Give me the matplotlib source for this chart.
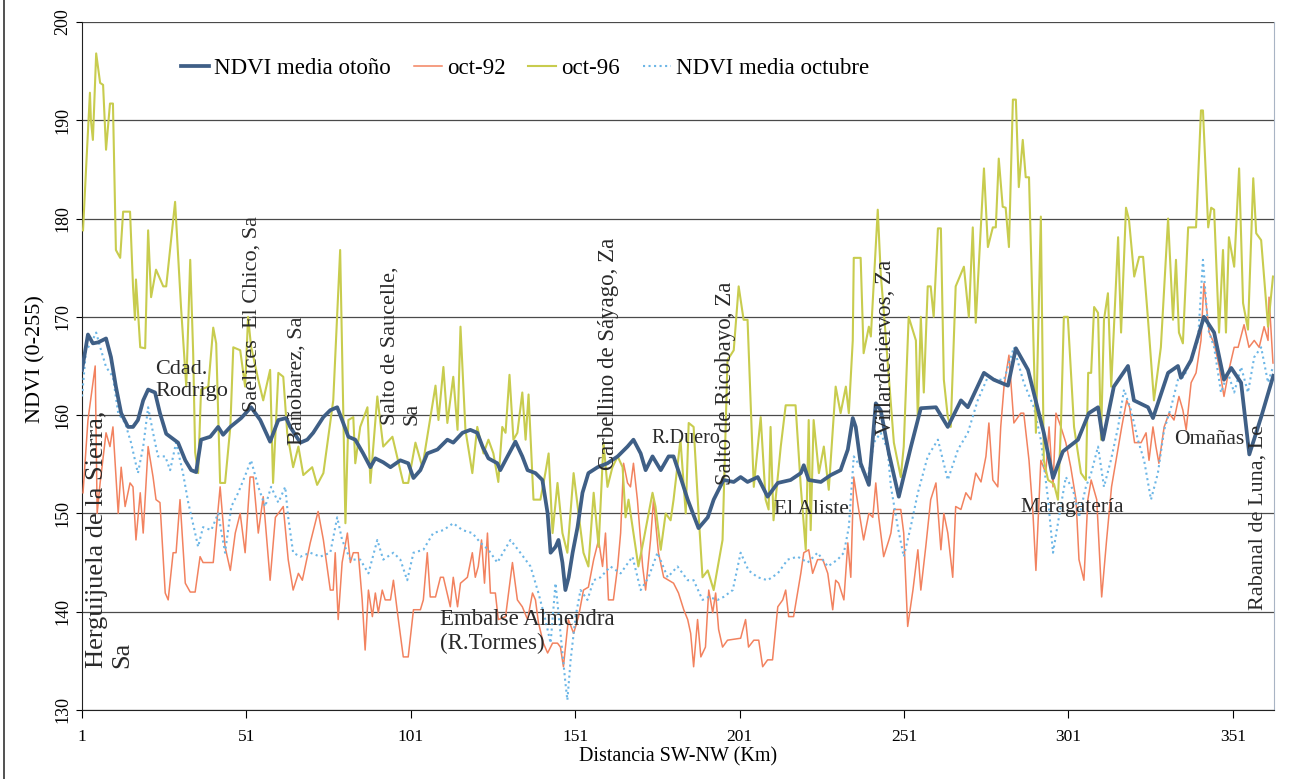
import matplotlib
matplotlib.use("Agg")
import matplotlib.pyplot as plt
from matplotlib.lines import Line2D

plt.rcParams['font.family'] = ['Liberation Serif', 'DejaVu Serif']

# (km, NDVI) pairs
otono = [(1, 164.6), (2.8, 168.2), (4.3, 167.3), (5.9, 167.4), (8.3, 167.8), (9.8, 165.9), (11.3, 162.9),
         (12.9, 160.2), (15.0, 158.8), (16.5, 158.8), (18.0, 159.5), (19.6, 161.5), (21.1, 162.6), (23.2, 162.3),
         (24.7, 160.2), (26.6, 158.1), (30.2, 157.2), (32.4, 155.4), (34.2, 154.4), (35.7, 154.2), (37.2, 157.5),
         (40.0, 157.8), (42.4, 158.8), (43.9, 158.0), (46.1, 158.8), (49.4, 159.7), (52.4, 160.8), (55.2, 159.5),
         (58.2, 157.3), (60.7, 159.5), (63.1, 159.7), (64.3, 158.8), (67.4, 157.2), (69.5, 157.5), (71.3, 158.2),
         (74.4, 159.8), (76.5, 160.5), (78.6, 160.8), (80.1, 159.5), (82.0, 157.8), (84.1, 157.5), (86.5, 156.1),
         (88.7, 154.7), (90.2, 155.6), (92.6, 155.2), (94.8, 154.7), (97.8, 155.4), (100.2, 155.1), (101.8, 153.6),
         (103.9, 154.4), (106.0, 156.1), (109.1, 156.5), (112.1, 157.5), (113.9, 157.2), (116.7, 158.2),
         (119.1, 158.5), (121.2, 158.2), (122.8, 156.8), (124.6, 155.6), (127.3, 155.1), (128.2, 154.4),
         (130.4, 155.8), (132.8, 157.3), (134.9, 155.8), (136.5, 154.4), (138.9, 154.1), (141.0, 153.4),
         (142.6, 150.0), (143.5, 146.0), (145.0, 146.6), (145.9, 147.3), (147.1, 145.0), (148.0, 142.2),
         (149.0, 143.5), (150.2, 146.0), (151.7, 148.6), (153.2, 152.1), (155.0, 154.1), (157.8, 154.7),
         (160.8, 155.1), (163.9, 155.8), (166.9, 156.8), (168.7, 157.5), (170.9, 156.1), (172.4, 154.4),
         (174.5, 155.8), (177.0, 154.4), (179.4, 155.8), (180.9, 155.8), (183.0, 153.7), (185.2, 151.4),
         (188.5, 148.5), (191.3, 149.6), (193.1, 151.4), (196.1, 153.4), (199.2, 153.2), (201.3, 153.7),
         (203.4, 153.2), (206.5, 153.7), (209.5, 151.7), (212.6, 153.1), (216.5, 153.4), (219.6, 154.1),
         (220.5, 154.9), (222.0, 153.4), (225.7, 153.2), (228.7, 153.9), (231.7, 154.4), (233.9, 156.5),
         (235.4, 159.7), (236.3, 158.8), (237.8, 155.1), (240.3, 152.9), (242.4, 161.2), (243.9, 160.5),
         (246.4, 156.1), (249.4, 151.7), (253.1, 156.8), (256.1, 160.7), (260.7, 160.8), (264.3, 158.8),
         (268.3, 161.5), (270.4, 160.8), (275.3, 164.3), (278.3, 163.6), (282.6, 163.0), (285.0, 166.8),
         (288.7, 164.6), (293.5, 158.2), (296.3, 153.6), (299.3, 156.3), (303.9, 157.5), (307.2, 160.2),
         (310.0, 160.8), (311.5, 157.5), (314.8, 162.9), (319.1, 165.0), (320.9, 161.5), (325.2, 160.8),
         (326.7, 159.7), (331.3, 164.3), (334.3, 165.0), (335.2, 163.8), (338.3, 165.6), (342.2, 170.0),
         (345.3, 168.4), (348.3, 163.6), (350.5, 164.8), (353.5, 163.3), (356.0, 156.0), (359.6, 159.8),
         (363.3, 164.0)]

oct92 = [(1.3, 152.1), (2.8, 159.5), (5.0, 165.0), (5.6, 150.0), (6.5, 153.1), (8.3, 158.2), (9.5, 156.8),
         (10.4, 158.8), (12.0, 150.0), (12.9, 154.7), (14.1, 150.7), (15.6, 153.1), (16.5, 152.7), (17.4, 147.3),
         (18.7, 152.1), (19.6, 148.0), (21.1, 156.8), (22.6, 153.7), (23.5, 151.4), (24.7, 151.1), (26.3, 141.9),
         (27.2, 141.2), (28.7, 146.0), (29.6, 146.0), (30.8, 151.4), (32.4, 142.9), (33.9, 142.0), (35.4, 142.0),
         (36.9, 145.6), (37.8, 145.0), (40.9, 145.0), (43.0, 152.7), (44.5, 146.6), (46.1, 144.2), (47.6, 148.0),
         (49.1, 150.0), (50.6, 146.0), (52.1, 153.7), (53.1, 153.7), (54.6, 148.0), (56.1, 151.7), (57.0, 148.0),
         (58.2, 143.2), (59.8, 149.6), (60.7, 150.0), (62.2, 150.7), (63.7, 145.3), (65.2, 142.2), (66.8, 143.9),
         (68.0, 143.2), (70.4, 147.0), (72.8, 150.2), (74.4, 147.3), (76.5, 142.2), (77.4, 142.2), (78.0, 146.0),
         (78.9, 139.2), (80.1, 145.0), (81.7, 148.0), (82.6, 145.0), (83.5, 146.0), (85.0, 146.0), (86.2, 141.2),
         (87.1, 136.1), (88.1, 142.2), (89.3, 139.5), (90.2, 141.9), (91.1, 139.9), (92.3, 142.2), (93.2, 141.2),
         (94.8, 141.2), (95.7, 143.2), (97.2, 139.2), (98.7, 135.4), (100.2, 135.4), (101.8, 140.2),
         (103.9, 140.2), (104.8, 141.2), (106.0, 146.0), (106.9, 141.5), (108.5, 141.5), (110.0, 143.5),
         (110.9, 143.5), (113.0, 140.5), (113.9, 143.5), (115.2, 140.5), (116.1, 142.9), (118.2, 143.5),
         (119.7, 146.0), (120.6, 143.5), (121.5, 144.6), (122.5, 147.3), (123.4, 142.9), (124.3, 148.0),
         (125.2, 141.9), (126.7, 141.9), (127.6, 139.2), (129.8, 139.5), (131.9, 145.0), (133.4, 141.2),
         (134.9, 140.5), (136.5, 139.2), (138.0, 141.9), (138.9, 141.2), (139.8, 138.9), (141.3, 136.8),
         (142.6, 135.8), (144.1, 136.8), (145.6, 136.8), (146.5, 136.4), (147.4, 134.4), (148.9, 139.2),
         (150.5, 137.8), (152.0, 139.5), (153.5, 142.2), (155.0, 142.5), (156.6, 145.3), (158.1, 147.3),
         (159.3, 144.6), (160.2, 148.0), (161.1, 141.2), (162.6, 141.2), (163.9, 144.6), (164.8, 148.0),
         (165.7, 155.1), (166.9, 153.1), (167.8, 152.7), (168.7, 155.1), (169.9, 151.4), (171.5, 144.6),
         (172.4, 142.2), (173.9, 147.3), (174.8, 151.4), (176.3, 146.0), (177.9, 143.5), (179.4, 143.2),
         (180.9, 142.9), (182.4, 141.9), (184.0, 140.2), (185.2, 139.2), (186.1, 137.8), (187.0, 134.4),
         (188.2, 139.2), (189.2, 135.4), (190.6, 136.4), (191.6, 142.2), (192.8, 139.9), (193.7, 141.9),
         (194.6, 138.2), (195.8, 136.4), (197.3, 137.1), (201.3, 137.3), (202.8, 139.2), (203.7, 136.4),
         (205.3, 137.1), (206.8, 137.1), (208.0, 134.4), (209.5, 135.1), (211.0, 135.1), (212.6, 140.5),
         (214.1, 141.2), (215.0, 142.2), (215.9, 139.5), (217.4, 139.5), (218.6, 141.9), (219.6, 143.9),
         (220.5, 146.0), (222.0, 146.3), (223.2, 143.9), (224.7, 145.3), (226.3, 145.3), (227.8, 143.9),
         (229.3, 140.2), (230.2, 143.2), (231.1, 142.9), (232.7, 141.2), (233.9, 147.0), (234.8, 143.5),
         (235.7, 153.7), (237.2, 150.4), (238.7, 147.3), (240.3, 150.0), (241.5, 149.6), (242.4, 153.1),
         (243.3, 149.6), (244.8, 145.6), (246.4, 147.3), (247.0, 148.0), (247.9, 150.4), (250.0, 150.4),
         (250.9, 148.0), (252.1, 138.5), (253.7, 142.2), (255.2, 146.3), (256.1, 142.2), (257.6, 146.6),
         (259.1, 151.4), (260.7, 153.1), (262.2, 146.3), (263.1, 150.0), (264.3, 148.0), (265.8, 143.5),
         (266.7, 150.7), (268.3, 150.4), (269.8, 152.1), (271.3, 151.4), (272.8, 154.1), (274.4, 153.2),
         (275.9, 155.8), (276.8, 159.2), (278.0, 153.4), (279.5, 152.7), (280.4, 158.8), (281.4, 162.9),
         (282.9, 166.1), (284.4, 159.2), (286.5, 160.2), (287.4, 160.2), (289.0, 155.4), (290.2, 150.0),
         (291.1, 144.2), (292.6, 155.4), (294.1, 154.1), (295.1, 158.8), (296.3, 152.7), (297.2, 160.2),
         (298.7, 158.8), (300.2, 157.2), (301.7, 154.7), (303.3, 151.4), (304.2, 145.3), (305.7, 143.2),
         (306.9, 151.4), (307.9, 153.4), (309.6, 151.4), (311.1, 141.5), (312.6, 147.3), (314.1, 152.7),
         (316.2, 156.8), (317.2, 158.8), (318.7, 161.5), (319.6, 160.8), (321.1, 157.2), (323.1, 157.2),
         (324.6, 158.2), (325.5, 155.4), (326.7, 158.8), (327.6, 156.8), (328.5, 155.1), (330.1, 158.8),
         (331.6, 160.2), (333.1, 159.5), (334.6, 161.9), (335.8, 160.5), (336.8, 158.5), (338.3, 163.3),
         (339.8, 164.3), (341.3, 167.6), (342.2, 173.4), (343.8, 168.4), (345.3, 167.3), (346.8, 165.0),
         (348.3, 161.9), (349.8, 164.6), (351.4, 166.9), (352.6, 166.9), (354.4, 169.2), (355.9, 166.9),
         (357.5, 167.6), (359.0, 166.9), (360.5, 169.0), (361.7, 167.6), (362.0, 172.0), (363.2, 165.3)]

oct96 = [(1.3, 178.8), (2.2, 184.9), (3.4, 192.8), (3.7, 190.0), (4.3, 188.0), (5.3, 196.8), (6.5, 193.8),
         (7.4, 193.6), (8.3, 187.0), (9.5, 191.7), (10.4, 191.7), (11.3, 176.8), (12.6, 176.0), (13.5, 180.7),
         (15.6, 180.7), (16.5, 173.1), (17.1, 169.7), (17.4, 173.8), (18.7, 166.9), (20.2, 166.8), (21.1, 178.8),
         (22.0, 172.0), (23.5, 174.8), (25.7, 173.1), (26.6, 173.1), (29.3, 181.7), (31.1, 171.0), (32.7, 162.9),
         (33.9, 175.8), (34.8, 166.3), (35.4, 156.2), (36.3, 154.1), (37.2, 162.6), (39.4, 162.9), (40.9, 168.9),
         (41.8, 167.3), (43.0, 153.1), (44.5, 153.1), (46.1, 158.8), (47.0, 166.9), (49.1, 166.6), (50.6, 162.9),
         (51.5, 170.0), (52.4, 167.0), (54.6, 163.6), (56.1, 161.5), (58.2, 164.6), (59.1, 153.1), (60.7, 164.3),
         (62.2, 163.9), (63.4, 158.2), (65.2, 154.7), (66.8, 156.8), (68.3, 153.9), (71.0, 154.7), (72.5, 152.9),
         (74.4, 154.1), (77.4, 161.5), (79.5, 176.8), (81.1, 149.0), (82.0, 159.5), (83.5, 159.8), (84.1, 155.1),
         (85.6, 158.8), (87.8, 160.8), (88.7, 153.1), (90.8, 161.9), (92.6, 156.8), (95.4, 157.8), (98.7, 153.1),
         (100.2, 153.1), (102.4, 157.2), (104.5, 154.7), (106.0, 157.8), (108.5, 163.0), (109.4, 159.5),
         (110.9, 164.9), (112.1, 159.2), (113.9, 163.9), (115.2, 158.5), (116.1, 169.0), (117.6, 158.5),
         (119.7, 154.1), (121.2, 158.8), (123.1, 156.1), (124.6, 157.5), (126.1, 156.1), (127.6, 153.2),
         (128.8, 158.8), (129.8, 158.2), (131.0, 164.1), (132.2, 157.5), (133.4, 158.2), (134.9, 162.3),
         (135.9, 157.5), (136.8, 162.1), (138.3, 151.4), (140.4, 151.4), (141.9, 154.1), (142.9, 156.1),
         (144.1, 148.0), (145.6, 153.1), (147.1, 148.0), (148.6, 146.0), (150.5, 154.1), (152.0, 150.0),
         (153.5, 146.0), (155.0, 144.6), (156.6, 152.1), (158.1, 146.6), (159.6, 157.2), (160.8, 152.7),
         (162.3, 154.7), (163.9, 155.8), (165.4, 154.7), (166.3, 149.6), (167.2, 151.4), (168.7, 148.0),
         (170.2, 144.6), (171.8, 147.3), (173.3, 150.0), (174.5, 152.1), (175.4, 150.7), (177.0, 146.3),
         (178.5, 150.0), (180.0, 149.3), (180.9, 151.4), (183.0, 157.5), (184.6, 150.0), (185.5, 159.2),
         (187.0, 158.8), (188.5, 150.0), (189.7, 143.5), (191.3, 144.2), (193.1, 142.2), (194.6, 145.0),
         (195.8, 147.3), (197.3, 165.6), (199.2, 166.6), (200.4, 171.7), (200.7, 173.1), (202.2, 169.7),
         (203.4, 169.7), (205.3, 152.7), (207.4, 159.8), (208.9, 151.4), (209.8, 150.4), (210.4, 158.8),
         (211.3, 149.3), (213.5, 156.8), (215.0, 161.0), (218.0, 161.0), (219.6, 152.7), (221.1, 146.3),
         (222.0, 159.5), (222.6, 148.3), (223.5, 159.5), (225.1, 154.1), (226.6, 156.8), (228.1, 152.4),
         (230.2, 162.9), (231.7, 160.2), (233.3, 162.9), (234.2, 160.2), (235.4, 167.6), (235.7, 176.0),
         (237.8, 176.0), (238.7, 166.3), (240.3, 169.0), (240.9, 168.0), (243.0, 180.9), (243.9, 174.4),
         (244.8, 170.7), (247.9, 157.2), (250.0, 153.7), (250.9, 156.8), (252.4, 170.0), (254.6, 167.6),
         (255.2, 159.5), (256.1, 170.0), (257.0, 162.3), (258.2, 173.1), (259.1, 173.1), (260.0, 170.0),
         (261.3, 179.0), (262.2, 179.0), (263.1, 163.6), (264.3, 159.8), (265.2, 158.8), (266.7, 173.1),
         (269.2, 175.1), (270.7, 170.0), (271.9, 179.1), (272.8, 169.4), (275.3, 185.1), (276.5, 177.1),
         (278.0, 179.1), (278.9, 179.1), (279.8, 186.1), (281.0, 181.2), (281.9, 181.1), (282.9, 177.1),
         (284.1, 192.1), (285.0, 192.1), (285.9, 183.2), (287.1, 188.0), (288.0, 184.2), (289.0, 184.2),
         (291.1, 158.2), (292.6, 180.2), (293.5, 155.4), (294.8, 153.4), (296.6, 153.0), (297.8, 151.4),
         (298.7, 158.8), (299.6, 170.0), (300.8, 170.0), (302.7, 158.8), (304.8, 154.1), (306.3, 153.4),
         (307.0, 164.3), (307.9, 164.3), (308.8, 171.0), (310.0, 170.4), (310.9, 157.5), (311.8, 169.7),
         (313.0, 172.4), (314.0, 162.9), (316.1, 178.1), (317.0, 168.4), (318.5, 181.1), (319.4, 179.9),
         (321.0, 174.1), (322.5, 176.1), (323.7, 176.1), (325.2, 169.7), (327.0, 161.5), (329.1, 166.9),
         (331.3, 180.0), (332.8, 169.7), (333.7, 175.8), (334.6, 168.4), (335.8, 167.3), (337.4, 179.1),
         (339.8, 179.1), (341.3, 191.0), (341.9, 191.0), (343.5, 179.1), (344.4, 181.1), (345.3, 180.9),
         (346.8, 168.4), (348.0, 176.8), (348.9, 168.4), (349.8, 178.1), (351.4, 175.1), (352.9, 185.1),
         (354.1, 171.4), (355.6, 168.7), (357.2, 184.1), (358.1, 178.5), (359.6, 177.8), (361.7, 169.0),
         (363.2, 174.1)]

octubre = [(1.0, 161.9), (2.2, 166.6), (3.7, 167.3), (5.3, 168.4), (6.8, 166.6), (8.3, 164.9), (10.4, 163.9),
           (12.0, 160.2), (14.1, 159.2), (15.9, 157.2), (18.0, 154.1), (19.6, 156.8), (21.1, 160.8),
           (22.6, 158.2), (24.1, 155.8), (26.3, 155.8), (27.8, 154.4), (29.6, 157.2), (31.7, 154.1),
           (33.3, 151.1), (35.4, 148.0), (36.3, 146.6), (37.8, 148.6), (40.3, 148.3), (42.4, 150.0),
           (44.5, 146.0), (46.4, 150.7), (48.5, 152.1), (50.9, 154.1), (52.4, 155.4), (54.6, 152.7),
           (56.7, 150.7), (58.5, 152.7), (60.7, 151.1), (62.8, 152.7), (63.7, 149.6), (65.2, 146.0),
           (67.4, 145.6), (70.4, 146.0), (73.4, 145.6), (76.5, 146.0), (78.6, 149.6), (80.1, 147.3),
           (82.6, 145.3), (85.6, 145.3), (88.1, 143.9), (90.8, 147.3), (92.6, 145.3), (95.7, 146.0),
           (97.8, 145.3), (99.9, 143.2), (101.8, 146.0), (104.8, 146.3), (107.8, 148.0), (110.9, 148.3),
           (113.9, 149.0), (116.7, 148.3), (119.7, 148.0), (122.2, 147.0), (124.6, 146.3), (127.3, 145.0),
           (131.3, 147.3), (134.3, 146.0), (137.4, 144.6), (139.8, 141.9), (141.9, 139.2), (143.5, 136.8),
           (145.0, 142.9), (146.5, 137.8), (148.0, 132.8), (148.6, 131.0), (149.6, 135.1), (151.1, 139.5),
           (152.6, 142.2), (154.7, 141.2), (156.6, 143.2), (158.7, 143.5), (161.7, 144.6), (164.8, 143.9),
           (168.4, 145.6), (170.9, 142.2), (173.3, 143.5), (176.0, 146.0), (179.1, 143.5), (182.1, 144.6),
           (185.2, 143.2), (187.0, 143.2), (189.7, 141.2), (191.6, 141.5), (194.3, 141.2), (196.1, 141.5),
           (198.9, 142.2), (201.3, 146.0), (203.7, 144.2), (206.5, 143.5), (209.5, 143.2), (212.6, 143.9),
           (215.6, 145.3), (218.6, 145.6), (221.7, 145.0), (224.7, 146.0), (227.8, 144.6), (230.8, 145.3),
           (232.7, 146.0), (234.2, 148.6), (235.7, 155.8), (237.8, 154.7), (239.9, 153.4), (241.8, 157.2),
           (243.9, 158.2), (246.0, 156.5), (247.0, 152.7), (249.1, 148.6), (250.9, 145.6), (253.0, 148.6),
           (255.2, 152.1), (258.2, 155.8), (261.3, 157.5), (264.3, 153.4), (267.4, 156.5), (270.4, 158.2),
           (273.4, 161.5), (276.5, 163.9), (278.9, 163.6), (281.4, 163.6), (284.4, 166.9), (287.4, 163.3),
           (290.5, 160.8), (292.6, 157.5), (294.8, 151.4), (296.3, 146.0), (298.1, 149.6), (300.2, 153.7),
           (302.4, 152.4), (304.2, 149.6), (306.3, 152.7), (307.9, 154.1), (310.0, 156.8), (311.8, 152.7),
           (313.9, 155.4), (316.1, 158.8), (317.9, 162.6), (320.0, 160.5), (322.1, 157.5), (324.0, 155.4),
           (326.1, 151.4), (328.2, 154.1), (330.1, 158.5), (332.2, 160.8), (334.3, 163.6), (336.1, 163.9),
           (338.3, 165.6), (340.4, 167.6), (341.9, 175.8), (343.5, 168.7), (345.3, 166.9), (347.4, 162.3),
           (349.5, 164.3), (351.4, 162.3), (353.5, 164.9), (355.6, 162.3), (357.5, 165.9), (359.6, 166.9),
           (361.7, 163.3), (363.2, 164.9)]

xticks = [1, 51, 101, 151, 201, 251, 301, 351]
yticks = [130, 140, 150, 160, 170, 180, 190, 200]

# place names: (text, km, ndvi, rotation, ha, va, size)
lugares = [
    ("Herguijuela de la Sierra,\nSa", 9.5, 134.3, 90, 'center', 'bottom', 19),
    ("Cdad.\nRodrigo", 23.2, 165.6, 0, 'left', 'top', 16),
    ("Saelices  El Chico, Sa", 52.7, 160.3, 90, 'center', 'bottom', 16),
    ("Bañobarez, Sa", 66.4, 157.0, 90, 'center', 'bottom', 16),
    ("Salto de Saucelle,\nSa", 98.1, 159.0, 90, 'center', 'bottom', 16),
    ("Embalse Almendra\n(R.Tormes)", 109.9, 140.3, 0, 'left', 'top', 16.5),
    ("Carbellino de Sáyago, Za", 161.1, 154.4, 90, 'center', 'bottom', 16.5),
    ("R.Duero", 174.3, 157.6, 0, 'left', 'center', 14.5),
    ("Salto de Ricobayo, Za", 196.6, 152.9, 90, 'center', 'bottom', 16.5),
    ("El Aliste", 211.3, 150.4, 0, 'left', 'center', 15.5),
    ("Villardeciervos, Za", 245.4, 158.0, 90, 'center', 'bottom', 16.5),
    ("Maragatería", 286.5, 150.6, 0, 'left', 'center', 15.5),
    ("Omañas", 333.1, 157.5, 0, 'left', 'center', 15.5),
    ("Rabanal de Luna, Le", 358.7, 140.2, 90, 'center', 'bottom', 16),
]

fig = plt.figure(figsize=(12.96, 7.79), dpi=100)
ax = fig.add_axes([0.0633, 0.0886, 0.9197, 0.8832])

x, y = zip(*oct92)
ax.plot(x, y, color='#f2825f', lw=1.1, label='oct-92', zorder=3)
x, y = zip(*octubre)
ax.plot(x, y, color='#6cb6e6', lw=1.5, ls=':', label='NDVI media octubre', zorder=4)
x, y = zip(*oct96)
ax.plot(x, y, color='#c8cc4e', lw=1.5, label='oct-96', zorder=5)
x, y = zip(*otono)
ax.plot(x, y, color='#3f5f86', lw=2.7, label='NDVI media otoño', zorder=6)

ax.set_xlim(1, 363.5)
ax.set_ylim(130, 200)
ax.set_xticks(xticks)
ax.set_yticks(yticks)
ax.tick_params(axis='x', direction='out', length=6, labelsize=12.5, pad=8)
ax.tick_params(axis='y', direction='out', length=4, labelsize=13, labelrotation=90)
for lab in ax.get_yticklabels():
    lab.set_va('center')
ax.yaxis.grid(True, color='#4a4a4a', lw=0.9)
ax.set_axisbelow(True)

ax.spines['top'].set_visible(False)
ax.spines['right'].set_color('#a8b4c4')
ax.spines['left'].set_color('#222222')
ax.spines['bottom'].set_color('#222222')

ax.set_xlabel('Distancia SW-NW (Km)', fontsize=14.5, labelpad=1)
ax.set_ylabel('NDVI (0-255)', fontsize=16)
ax.yaxis.set_label_coords(-0.031, 0.51)

for txt, km, val, rot, ha, va, fs in lugares:
    ax.text(km, val, txt, rotation=rot, ha=ha, va=va, fontsize=fs,
            color='#2a2a2a', multialignment='left', zorder=7)

h, l = ax.get_legend_handles_labels()
order = [3, 0, 2, 1]
ax.legend([h[i] for i in order], [l[i] for i in order], ncol=4, frameon=False,
          loc='center left', bbox_to_anchor=(0.0755, 0.933), fontsize=16.5,
          handlelength=1.22, handletextpad=0.22, columnspacing=1.0, borderaxespad=0)

fig.add_artist(Line2D([0.003, 0.003], [0, 1], color='#333333', lw=1.2))

fig.savefig('out.png', dpi=100)
